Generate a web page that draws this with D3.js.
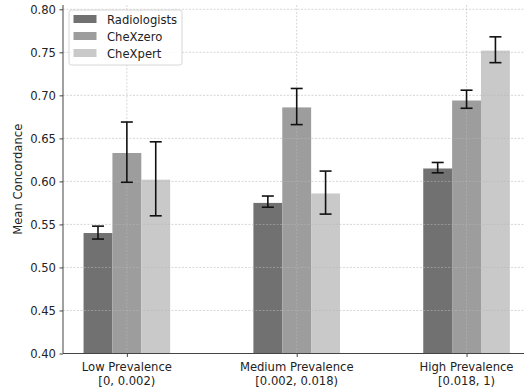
<!DOCTYPE html>
<html>
<head>
<meta charset="utf-8">
<script src="https://cdn.jsdelivr.net/npm/d3@7"></script>
<style>
  body { margin: 0; background: #fff; }
  svg text { font-family: "DejaVu Sans", sans-serif; }
</style>
</head>
<body>
<div class="chart"></div>
<script>
// data
const groups = ['Low Prevalence', 'Medium Prevalence', 'High Prevalence'];
const ranges = ['[0, 0.002)', '[0.002, 0.018)', '[0.018, 1)'];
const series = ['Radiologists', 'CheXzero', 'CheXpert'];
const colors = ['#717171', '#9d9d9d', '#c9c9c9'];

const means = [
  [0.540, 0.633, 0.602],
  [0.575, 0.686, 0.586],
  [0.615, 0.694, 0.752]
];
const lows = [
  [0.533, 0.599, 0.560],
  [0.570, 0.666, 0.562],
  [0.610, 0.685, 0.738]
];
const highs = [
  [0.548, 0.669, 0.646],
  [0.583, 0.708, 0.612],
  [0.622, 0.706, 0.768]
];
const yTicks = [0.40, 0.45, 0.50, 0.55, 0.60, 0.65, 0.70, 0.75, 0.80];

const width = 524, height = 387;
const fs = 11.6;
const svg = d3.select('.chart').append('svg').attr('width', width).attr('height', height);

// axes area
const pLeft = 63, pRight = 526, pTop = 5, pBottom = 353.5;

const x = d3.scaleLinear().domain([-0.376, 2.35]).range([pLeft, pRight]);
const y = d3.scaleLinear().domain([0.4, 0.805]).range([pBottom, pTop]);
const barW = 0.17;

// bars
groups.forEach((g, gi) => {
  series.forEach((s, si) => {
    const cx = gi + (si - 1) * barW;
    svg.append('rect')
      .attr('x', x(cx - barW / 2))
      .attr('width', x(barW) - x(0))
      .attr('y', y(means[gi][si]))
      .attr('height', y(0.4) - y(means[gi][si]))
      .attr('fill', colors[si]);
  });
});

// grid on top of the bars, like the original
const grid = svg.append('g').attr('stroke', '#b8b8b8').attr('stroke-opacity', 0.7)
  .attr('stroke-dasharray', '2,1.5').attr('stroke-width', 0.8);
yTicks.forEach(t => {
  grid.append('line').attr('x1', pLeft).attr('x2', width).attr('y1', y(t)).attr('y2', y(t));
});
groups.forEach((g, gi) => {
  grid.append('line').attr('x1', x(gi)).attr('x2', x(gi)).attr('y1', pTop).attr('y2', pBottom);
});

// error bars
groups.forEach((g, gi) => {
  series.forEach((s, si) => {
    const cx = x(gi + (si - 1) * barW);
    const eb = svg.append('g').attr('stroke', '#111').attr('stroke-width', 1.6);
    eb.append('line').attr('x1', cx).attr('x2', cx).attr('y1', y(lows[gi][si])).attr('y2', y(highs[gi][si]));
    eb.append('line').attr('x1', cx - 6).attr('x2', cx + 6).attr('y1', y(lows[gi][si])).attr('y2', y(lows[gi][si]));
    eb.append('line').attr('x1', cx - 6).attr('x2', cx + 6).attr('y1', y(highs[gi][si])).attr('y2', y(highs[gi][si]));
  });
});

// y axis
const yAxis = svg.append('g').attr('transform', `translate(${pLeft},0)`)
  .call(d3.axisLeft(y).tickValues(yTicks).tickFormat(d3.format('.2f')).tickSize(3.5).tickPadding(3.5));
yAxis.select('.domain').attr('stroke', '#444').attr('stroke-width', 1).attr('d', `M0,${pTop}V${pBottom}`);
yAxis.selectAll('.tick line').attr('stroke', '#444');
yAxis.selectAll('.tick text').attr('font-size', fs).attr('fill', '#222');

// x axis
const xAxis = svg.append('g').attr('transform', `translate(0,${pBottom})`)
  .call(d3.axisBottom(x).tickValues([0, 1, 2]).tickFormat('').tickSize(3.5));
xAxis.select('.domain').attr('stroke', '#444').attr('d', `M${pLeft},0H${width}`);
xAxis.selectAll('.tick line').attr('stroke', '#444');
groups.forEach((g, gi) => {
  const t = svg.append('text').attr('x', x(gi)).attr('text-anchor', 'middle')
    .attr('font-size', fs).attr('fill', '#222');
  t.append('tspan').attr('x', x(gi)).attr('y', 371).text(g);
  t.append('tspan').attr('x', x(gi)).attr('y', 385).text(ranges[gi]);
});

// y label
svg.append('text')
  .attr('transform', `translate(21.5,${(pTop + pBottom) / 2}) rotate(-90)`)
  .attr('text-anchor', 'middle').attr('font-size', fs).attr('fill', '#222')
  .text('Mean Concordance');

// legend
const lg = svg.append('g').attr('transform', 'translate(69,10)');
lg.append('rect').attr('width', 113).attr('height', 55).attr('rx', 2.5)
  .attr('fill', 'white').attr('fill-opacity', 0.8).attr('stroke', '#d6d6d6');
series.forEach((s, si) => {
  lg.append('rect').attr('x', 4.5).attr('y', 5 + si * 17).attr('width', 23).attr('height', 8).attr('fill', colors[si]);
  lg.append('text').attr('x', 38).attr('y', 13.5 + si * 17).attr('font-size', fs).attr('fill', '#222').text(s);
});
</script>
</body>
</html>
